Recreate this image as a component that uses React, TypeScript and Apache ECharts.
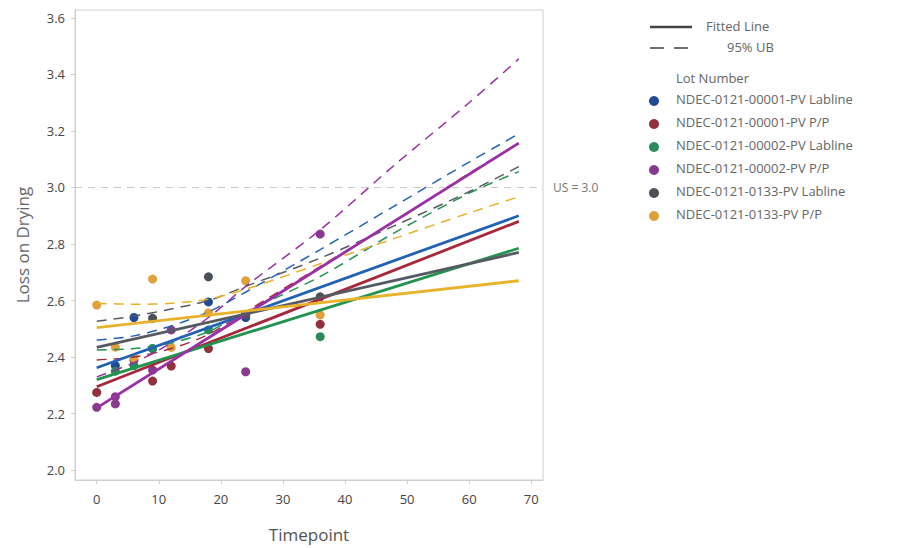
import React, { useEffect, useRef } from "react";
import * as echarts from "echarts";

const LOTS = [
  "NDEC-0121-00001-PV Labline",
  "NDEC-0121-00001-PV P/P",
  "NDEC-0121-00002-PV Labline",
  "NDEC-0121-00002-PV P/P",
  "NDEC-0121-0133-PV Labline",
  "NDEC-0121-0133-PV P/P",
];
const DOT_COLORS = ["#1f4a96", "#92303b", "#2a8a5c", "#873b8e", "#4c5058", "#dfa13a"];
const LINE_COLORS = ["#2162b8", "#a8283a", "#22944e", "#9a2fa6", "#555a62", "#e8b22a"];

// observed points [timepoint, value]
const PTS_00001_LAB = [[3, 2.37], [6, 2.54], [9, 2.43], [18, 2.595], [24, 2.54]];
const PTS_00001_PP = [[0, 2.275], [6, 2.39], [9, 2.315], [12, 2.368], [18, 2.43], [36, 2.516]];
const PTS_00002_LAB = [[3, 2.35], [6, 2.37], [9, 2.43], [18, 2.496], [24, 2.55], [36, 2.472]];
const PTS_00002_PP = [[0, 2.222], [3, 2.26], [3, 2.234], [9, 2.354], [12, 2.496], [24, 2.348], [36, 2.835]];
const PTS_0133_LAB = [[9, 2.537], [18, 2.684], [24, 2.55], [36, 2.613]];
const PTS_0133_PP = [[0, 2.584], [3, 2.435], [6, 2.397], [9, 2.676], [12, 2.434], [18, 2.556], [24, 2.67], [36, 2.549]];
const POINTS = [PTS_00001_LAB, PTS_00001_PP, PTS_00002_LAB, PTS_00002_PP, PTS_0133_LAB, PTS_0133_PP];

// fitted lines: values at FIT_T
const FIT_T = [0, 68];
const FIT_00001_LAB = [2.362, 2.9];
const FIT_00001_PP = [2.295, 2.88];
const FIT_00002_LAB = [2.32, 2.785];
const FIT_00002_PP = [2.22, 3.157];
const FIT_0133_LAB = [2.434, 2.77];
const FIT_0133_PP = [2.504, 2.67];
const FITS = [FIT_00001_LAB, FIT_00001_PP, FIT_00002_LAB, FIT_00002_PP, FIT_0133_LAB, FIT_0133_PP];

// 95% upper bounds: values at UB_T
const UB_T = [0, 6, 12, 18, 24, 36, 48, 60, 68];
const UB_00001_LAB = [2.46, 2.475, 2.51, 2.56, 2.63, 2.78, 2.935, 3.09, 3.19];
const UB_00001_PP = [2.39, 2.4, 2.43, 2.48, 2.56, 2.72, 2.88, 3.05, 3.155];
const UB_00002_LAB = [2.425, 2.43, 2.45, 2.49, 2.56, 2.685, 2.84, 2.98, 3.056];
const UB_00002_PP = [2.33, 2.38, 2.45, 2.54, 2.65, 2.85, 3.08, 3.3, 3.455];
const UB_0133_LAB = [2.527, 2.545, 2.57, 2.6, 2.65, 2.75, 2.865, 2.985, 3.074];
const UB_0133_PP = [2.59, 2.587, 2.59, 2.605, 2.64, 2.73, 2.82, 2.91, 2.967];
const UBS = [UB_00001_LAB, UB_00001_PP, UB_00002_LAB, UB_00002_PP, UB_0133_LAB, UB_0133_PP];

const X_TICKS = [0, 10, 20, 30, 40, 50, 60, 70];
const Y_TICKS = [2.0, 2.2, 2.4, 2.6, 2.8, 3.0, 3.2, 3.4, 3.6];
const SPEC_LIMIT = 3.0;

const FONT = "'Open Sans', 'Noto Sans', sans-serif";

export default function App() {
  const ref = useRef<HTMLDivElement>(null);
  useEffect(() => {
    if (!ref.current) return;
    const chart = echarts.init(ref.current, null, { renderer: "svg" });
    const series: any[] = [];
    LOTS.forEach((name, i) => {
      series.push({
        name,
        type: "scatter",
        data: POINTS[i],
        symbolSize: 9,
        itemStyle: { color: DOT_COLORS[i], opacity: 1 },
        z: 2,
      });
    });
    LOTS.forEach((name, i) => {
      series.push({
        name: "UB " + name,
        type: "line",
        data: UB_T.map((t, k) => [t, UBS[i][k]]),
        smooth: 0.3,
        symbol: "none",
        lineStyle: { color: LINE_COLORS[i], width: 1.5, type: [10, 7] },
        z: 3,
      });
    });
    LOTS.forEach((name, i) => {
      series.push({
        name: "Fit " + name,
        type: "line",
        data: FIT_T.map((t, k) => [t, FITS[i][k]]),
        symbol: "none",
        lineStyle: { color: LINE_COLORS[i], width: 2.8 },
        z: 4,
      });
    });
    series.push({
      name: "spec",
      type: "line",
      data: [],
      markLine: {
        silent: true,
        symbol: "none",
        lineStyle: { color: "#c8c8c8", type: [7, 6], width: 1.2 },
        label: {
          position: "end",
          formatter: "US = " + SPEC_LIMIT.toFixed(1),
          color: "#777",
          fontFamily: FONT,
          fontSize: 12,
          distance: 10,
        },
        data: [{ yAxis: SPEC_LIMIT }],
      },
    });

    const legendGraphics: any[] = [
      { type: "line", shape: { x1: 650, y1: 27, x2: 692, y2: 27 }, style: { stroke: "#444", lineWidth: 2.6 } },
      { type: "text", left: 706, top: 19, style: { text: "Fitted Line", fill: "#666", font: "13px " + FONT } },
      { type: "line", shape: { x1: 650, y1: 48, x2: 692, y2: 48 }, style: { stroke: "#444", lineWidth: 1.5, lineDash: [14, 10] } },
      { type: "text", left: 727, top: 40, style: { text: "95% UB", fill: "#666", font: "13px " + FONT } },
      { type: "text", left: 676, top: 71, style: { text: "Lot Number", fill: "#666", font: "13px " + FONT } },
    ];
    LOTS.forEach((name, i) => {
      const y = 101 + i * 23;
      legendGraphics.push({ type: "circle", shape: { cx: 654, cy: y, r: 5 }, style: { fill: DOT_COLORS[i] } });
      legendGraphics.push({ type: "text", left: 676, top: y - 9, style: { text: name, fill: "#666", font: "13px " + FONT } });
    });

    chart.setOption({
      animation: false,
      backgroundColor: "#fff",
      textStyle: { fontFamily: FONT },
      grid: { left: 75, right: 366, top: 10, bottom: 68, show: true, borderColor: "#cfcfcf", borderWidth: 1 },
      xAxis: {
        type: "value",
        min: -3.5,
        max: 71.9,
        name: "Timepoint",
        nameLocation: "middle",
        nameGap: 46,
        nameTextStyle: { fontSize: 17, color: "#555", fontFamily: FONT },
        axisLine: { show: true, onZero: false, lineStyle: { color: "#cfcfcf" } },
        axisTick: { show: true, customValues: X_TICKS, length: 4, lineStyle: { color: "#cfcfcf" } },
        axisLabel: { customValues: X_TICKS, color: "#444", fontSize: 13, margin: 12, fontFamily: FONT },
        splitLine: { show: false },
      },
      yAxis: {
        type: "value",
        min: 1.965,
        max: 3.628,
        name: "Loss on Drying",
        nameLocation: "middle",
        nameGap: 44,
        nameTextStyle: { fontSize: 17, color: "#666", fontFamily: FONT },
        axisLine: { show: true, onZero: false, lineStyle: { color: "#cfcfcf" } },
        axisTick: { show: true, customValues: Y_TICKS, length: 4, lineStyle: { color: "#cfcfcf" } },
        axisLabel: {
          customValues: Y_TICKS,
          color: "#444",
          fontSize: 13,
          margin: 10,
          fontFamily: FONT,
          formatter: (v: number) => v.toFixed(1),
        },
        splitLine: { show: false },
      },
      graphic: legendGraphics,
      series,
    });
    return () => chart.dispose();
  }, []);
  return <div ref={ref} style={{ width: 909, height: 548, marginLeft: -8, marginTop: -8 }} />;
}
